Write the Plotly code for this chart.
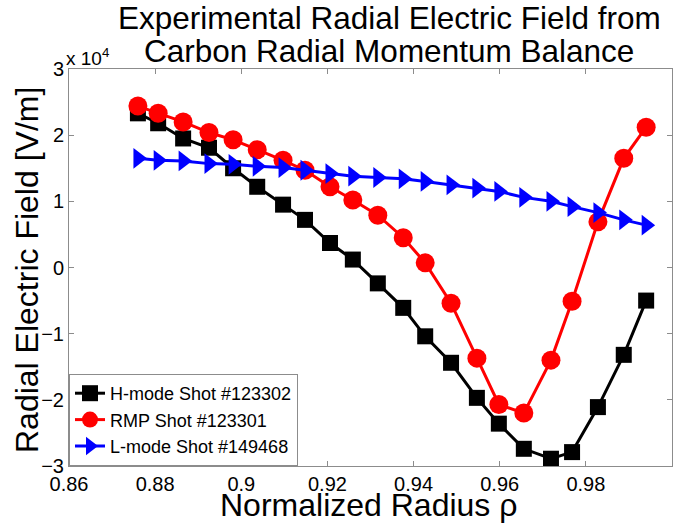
import plotly.graph_objects as go

# Normalized radius for each measurement channel
rho = [0.8760, 0.8807, 0.8865, 0.8925, 0.8981, 0.9037, 0.9097, 0.9148,
       0.9206, 0.9259, 0.9317, 0.9376, 0.9427, 0.9487, 0.9547, 0.9598,
       0.9656, 0.9719, 0.9768, 0.9828, 0.9888, 0.9940]

# Radial electric field, in units of 10^4 V/m
er_hmode = [2.33, 2.18, 1.95, 1.81, 1.50, 1.22, 0.95, 0.72, 0.37, 0.12, -0.24,
            -0.61, -1.04, -1.44, -1.97, -2.36, -2.74, -2.89, -2.79, -2.11, -1.32, -0.50]
er_rmp = [2.44, 2.33, 2.20, 2.04, 1.93, 1.78, 1.62, 1.47, 1.22, 1.02, 0.79,
          0.45, 0.07, -0.54, -1.37, -2.07, -2.20, -1.40, -0.51, 0.69, 1.65, 2.12]
er_lmode = [1.65, 1.62, 1.61, 1.57, 1.56, 1.53, 1.51, 1.47, 1.42, 1.38, 1.36,
            1.34, 1.30, 1.25, 1.20, 1.15, 1.06, 1.00, 0.92, 0.83, 0.72, 0.64]

series_names = ["H-mode Shot #123302", "RMP Shot #123301", "L-mode Shot #149468"]

x_ticks = [0.86, 0.88, 0.9, 0.92, 0.94, 0.96, 0.98, 1.0]
x_ticktext = ["0.86", "0.88", "0.9", "0.92", "0.94", "0.96", "0.98", "1"]
y_ticks = [-3, -2, -1, 0, 1, 2, 3]

title_lines = ["Experimental Radial Electric Field from", "Carbon Radial Momentum Balance"]
x_title = "Normalized Radius ρ"
y_title = "Radial Electric Field [V/m]"

FONT = "Liberation Sans, Arial, sans-serif"
W, H = 675, 527
ML, MR, MT, MB = 69, 3, 69, 61
PW, PH = W - ML - MR, H - MT - MB


def px_to_paper_x(px):
    return (px - ML) / PW


def px_to_paper_y(py):
    return (H - MB - py) / PH


fig = go.Figure()
fig.add_trace(go.Scatter(
    x=rho, y=er_hmode, name=series_names[0], mode="lines+markers",
    line=dict(color="black", width=3),
    marker=dict(symbol="square", size=16, color="black")))
fig.add_trace(go.Scatter(
    x=rho, y=er_rmp, name=series_names[1], mode="lines+markers",
    line=dict(color="#ff0000", width=3),
    marker=dict(symbol="circle", size=19, color="#ff0000")))
fig.add_trace(go.Scatter(
    x=rho, y=er_lmode, name=series_names[2], mode="lines+markers",
    line=dict(color="#0000ff", width=3),
    marker=dict(symbol="triangle-right", size=18, color="#0000ff")))

axis_common = dict(
    showgrid=False, zeroline=False, showline=True, linecolor="#8c8c8c",
    linewidth=1, mirror="ticks", ticks="inside", ticklen=5, tickcolor="#8c8c8c",
    tickfont=dict(family=FONT, size=20, color="black"), automargin=False,
)

fig.update_xaxes(range=[0.86, 1.0], tickvals=x_ticks, ticktext=x_ticktext, **axis_common)
fig.update_yaxes(range=[-3, 3], tickvals=y_ticks, **axis_common)

# exponent marker above the y axis
fig.add_annotation(text="x 10<sup>4</sup>", xref="paper", yref="paper",
                   x=px_to_paper_x(64), y=1.0, xanchor="left", yanchor="bottom",
                   showarrow=False, font=dict(family=FONT, size=19, color="black"), yshift=-2)

# two-line title
for line, cy in zip(title_lines, [18, 51]):
    fig.add_annotation(text=line, xref="paper", yref="paper",
                       x=px_to_paper_x(389), y=px_to_paper_y(cy),
                       xanchor="center", yanchor="middle", showarrow=False,
                       font=dict(family=FONT, size=31.5, color="black"))

# axis titles
fig.add_annotation(text=x_title, xref="paper", yref="paper",
                   x=px_to_paper_x(368), y=px_to_paper_y(505),
                   xanchor="center", yanchor="middle", showarrow=False,
                   font=dict(family=FONT, size=32, color="black"))
fig.add_annotation(text=y_title, xref="paper", yref="paper",
                   x=px_to_paper_x(27), y=px_to_paper_y(270), textangle=-90,
                   xanchor="center", yanchor="middle", showarrow=False,
                   font=dict(family=FONT, size=32, color="black"))

fig.update_layout(
    width=W, height=H,
    margin=dict(l=ML, r=MR, t=MT, b=MB),
    paper_bgcolor="white", plot_bgcolor="white",
    legend=dict(x=0.0, y=0.0, xanchor="left", yanchor="bottom",
                bgcolor="white", bordercolor="#8c8c8c", borderwidth=1,
                font=dict(family=FONT, size=18, color="black"),
                tracegroupgap=0, itemsizing="trace", itemwidth=30),
    showlegend=True,
)

fig.write_html("out.html")
